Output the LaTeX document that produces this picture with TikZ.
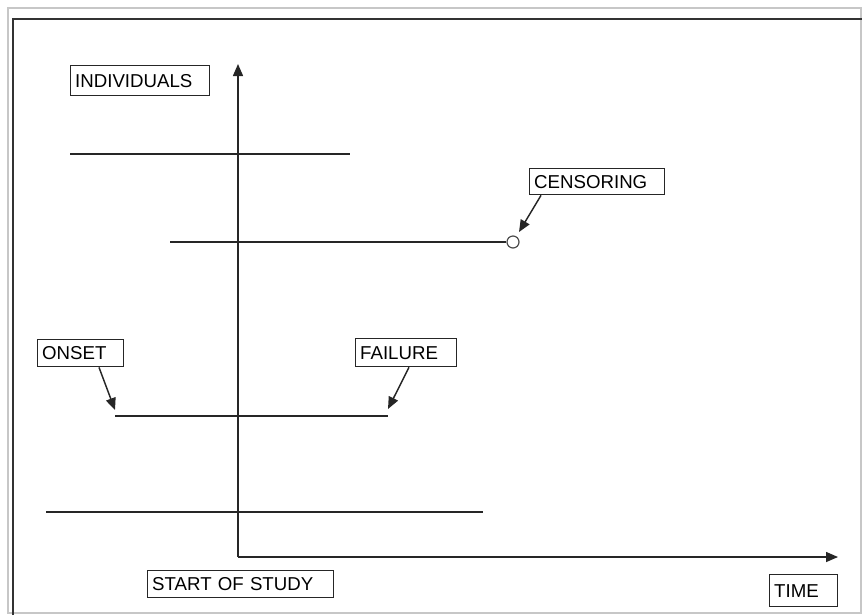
\documentclass[tikz,border=0pt]{standalone}
\usepackage{fontspec}
\setmainfont{Liberation Sans}
\usetikzlibrary{arrows.meta}
\begin{document}
\begin{tikzpicture}[x=0.75pt,y=-0.75pt,
  lbl/.style={draw=black!85, line width=1pt, anchor=north west, rectangle,
    inner xsep=3.4pt, inner ysep=0pt, align=left, font=\fontsize{14}{16}\selectfont},
  ln/.style={line width=1.2pt, draw=black!85},
  arr/.style={line width=1.1pt, draw=black!85, -{Triangle[length=9pt,width=7.5pt]}},
  frameout/.style={draw=black!22, line width=1pt},
  framein/.style={draw=black!80, line width=1.6pt}]
\useasboundingbox (0,0) rectangle (862,615);
% window frame
\draw[frameout] (8,613) -- (8,8) -- (861,8) -- (861,613) -- cycle;
\draw[framein] (13,615) -- (13,19) -- (862,19);
% axes
\coordinate (origin) at (238,557);
\coordinate (ytip) at (238,64);
\coordinate (xtip) at (838,557);
\draw[arr] (origin) -- (ytip);
\draw[arr] (origin) -- (xtip);
% labels
\node[lbl, text width=97.5pt, minimum height=22.5pt] (indiv) at (70,65) {INDIVIDUALS};
\node[lbl, text width=94.5pt, minimum height=19.5pt] (cens) at (529,168) {CENSORING};
\node[lbl, text width=57.75pt, minimum height=20.25pt] (onset) at (37,339) {ONSET};
\node[lbl, text width=69pt, minimum height=21pt] (fail) at (355,338) {FAILURE};
\node[lbl, text width=132.75pt, minimum height=20.25pt] (start) at (147,570) {START OF STUDY};
\node[lbl, text width=44.25pt, minimum height=24pt] (time) at (769,574) {TIME};
% individual lines
\coordinate (a1) at (70,154);  \coordinate (a2) at (350,154);
\draw[ln] (a1) -- (a2);
\coordinate (b1) at (170,242);
\node[circle, draw=black!70, fill=white, line width=0.9pt, minimum size=9pt, inner sep=0pt] (cend) at (513,242) {};
\draw[ln] (b1) -- (cend.west);
\coordinate (c1) at (115,416);  \coordinate (c2) at (388,416);
\draw[ln] (c1) -- (c2);
\coordinate (d1) at (46,512);  \coordinate (d2) at (483,512);
\draw[ln] (d1) -- (d2);
% pointer arrows
\coordinate (censtip) at (519,232);
\coordinate (onsettip) at (115,410);
\coordinate (failtip) at (388,409);
\draw[arr] ([xshift=9pt]cens.south west) -- (censtip);
\draw[arr] ([xshift=46.5pt]onset.south west) -- (onsettip);
\draw[arr] ([xshift=40.5pt]fail.south west) -- (failtip);
\end{tikzpicture}
\end{document}
